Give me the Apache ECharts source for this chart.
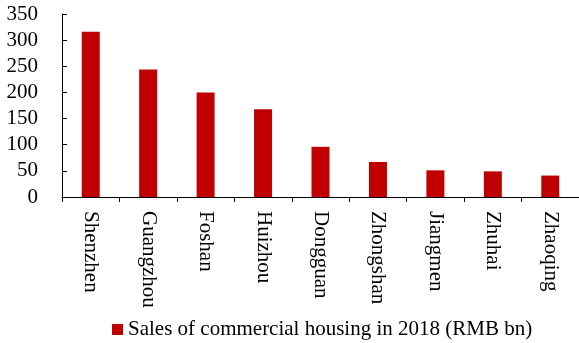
<!DOCTYPE html>
<html>
<head>
<meta charset="utf-8">
<script src="https://cdn.jsdelivr.net/npm/echarts@6/dist/echarts.min.js"></script>
<style>
  html, body { margin: 0; padding: 0; background: #fff; }
  #chart { width: 579px; height: 343px; }
</style>
</head>
<body>
<div id="chart"></div>
<script>
// Cities in the Greater Bay Area and their 2018 commercial housing sales
const cities = ['Shenzhen', 'Guangzhou', 'Foshan', 'Huizhou', 'Dongguan', 'Zhongshan', 'Jiangmen', 'Zhuhai', 'Zhaoqing'];
const sales2018 = [316, 244, 200, 168, 96, 67, 51, 49, 41];
const seriesName = 'Sales of commercial housing in 2018 (RMB bn)';
const yTicks = [0, 50, 100, 150, 200, 250, 300, 350];

const serif = '"Liberation Serif", "Times New Roman", serif';
const chart = echarts.init(document.getElementById('chart'));

chart.setOption({
  animation: false,
  grid: { left: 62, top: 14, width: 519, height: 183, containLabel: false },
  legend: {
    data: [seriesName],
    left: 112,
    top: 319,
    padding: 0,
    icon: 'rect',
    itemWidth: 11,
    itemHeight: 11,
    itemGap: 5,
    textStyle: { fontFamily: serif, fontSize: 21, color: '#000', padding: [0, 0, 0, 0] }
  },
  xAxis: {
    type: 'category',
    data: cities,
    axisLine: { lineStyle: { color: '#000', width: 1 } },
    axisTick: { show: true, inside: false, length: 5, lineStyle: { color: '#000' } },
    axisLabel: {
      rotate: -90,
      margin: 14,
      fontFamily: serif,
      fontSize: 21,
      color: '#000',
      interval: 0
    }
  },
  yAxis: {
    type: 'value',
    min: yTicks[0],
    max: yTicks[yTicks.length - 1],
    interval: 50,
    splitLine: { show: false },
    axisLine: { show: true, lineStyle: { color: '#000', width: 1 } },
    axisTick: { show: true, inside: true, length: 5, lineStyle: { color: '#000' } },
    axisLabel: {
      margin: 24,
      fontFamily: serif,
      fontSize: 21,
      color: '#000'
    }
  },
  series: [{
    name: seriesName,
    type: 'bar',
    data: sales2018,
    barWidth: 18,
    itemStyle: { color: '#C00000' }
  }]
});
</script>
</body>
</html>
